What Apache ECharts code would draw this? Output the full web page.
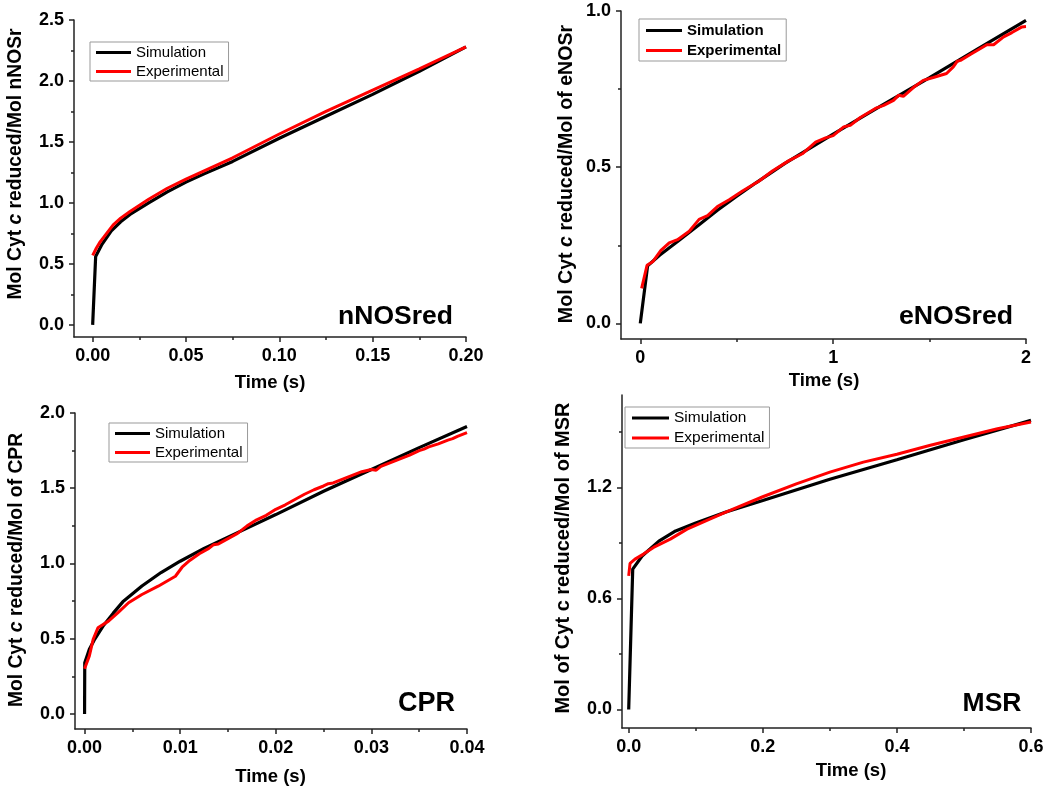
<!DOCTYPE html>
<html>
<head>
<meta charset="utf-8">
<script src="https://cdn.jsdelivr.net/npm/echarts@6/dist/echarts.min.js"></script>
<style>
html,body{margin:0;padding:0;background:#fff;}
#chart{width:1050px;height:792px;}
</style>
</head>
<body>
<div id="chart"></div>
<script>
// ---------- DATA ----------
// Panel 1: nNOSred
const p1SimT = [0, 0.0016, 0.005, 0.01, 0.015, 0.02, 0.03, 0.04, 0.05, 0.06, 0.075, 0.1, 0.125, 0.15, 0.175, 0.2];
const p1SimY = [0, 0.56, 0.66, 0.77, 0.845, 0.905, 1.0, 1.09, 1.17, 1.24, 1.34, 1.53, 1.71, 1.89, 2.08, 2.28];
const p1ExpT = [0, 0.002, 0.004, 0.0075, 0.011, 0.015, 0.02, 0.03, 0.04, 0.05, 0.06, 0.075, 0.1, 0.125, 0.15, 0.175, 0.2];
const p1ExpY = [0.57, 0.63, 0.68, 0.75, 0.82, 0.875, 0.93, 1.03, 1.12, 1.195, 1.265, 1.37, 1.565, 1.75, 1.925, 2.1, 2.28];
const p1XTicks = [0, 0.05, 0.1, 0.15, 0.2];
const p1XMinor = [0.025, 0.075, 0.125, 0.175];
const p1YTicks = [0, 0.5, 1.0, 1.5, 2.0, 2.5];
const p1YMinor = [0.25, 0.75, 1.25, 1.75, 2.25];

// Panel 2: eNOSred
const p2SimT = [0, 0.038, 0.1, 0.2, 0.3, 0.4, 0.5, 0.6, 0.75, 1.0, 1.25, 1.5, 1.75, 2.0];
const p2SimY = [0, 0.184, 0.218, 0.265, 0.313, 0.362, 0.407, 0.45, 0.512, 0.606, 0.697, 0.787, 0.879, 0.970];
const p2ExpT = [0.007, 0.035, 0.064, 0.107, 0.150, 0.193, 0.254, 0.305, 0.349, 0.40, 0.461, 0.53, 0.616, 0.685, 0.771, 0.840, 0.909, 0.961, 1.0, 1.055, 1.089, 1.141, 1.219, 1.262, 1.313, 1.339, 1.364, 1.416, 1.467, 1.519, 1.588, 1.623, 1.643, 1.66, 1.711, 1.797, 1.832, 1.884, 1.927, 1.979, 2.0];
const p2ExpY = [0.112, 0.186, 0.197, 0.234, 0.258, 0.268, 0.295, 0.333, 0.345, 0.374, 0.396, 0.424, 0.456, 0.488, 0.521, 0.543, 0.580, 0.594, 0.601, 0.629, 0.634, 0.659, 0.688, 0.698, 0.714, 0.730, 0.727, 0.755, 0.778, 0.787, 0.80, 0.821, 0.839, 0.842, 0.861, 0.892, 0.892, 0.917, 0.931, 0.949, 0.95];
const p2XTicks = [0, 1, 2];
const p2XMinor = [0.5, 1.5];
const p2YTicks = [0, 0.5, 1.0];
const p2YMinor = [0.25, 0.75];

// Panel 3: CPR
const p3SimT = [0, 0.00002, 0.0005, 0.001, 0.002, 0.003, 0.004, 0.006, 0.008, 0.01, 0.0125, 0.015, 0.0175, 0.02, 0.025, 0.03, 0.035, 0.04];
const p3SimY = [0, 0.34, 0.43, 0.49, 0.59, 0.67, 0.745, 0.85, 0.94, 1.015, 1.1, 1.175, 1.25, 1.325, 1.48, 1.625, 1.77, 1.91];
const p3ExpT = [0, 0.0005, 0.0009, 0.0014, 0.0025, 0.0035, 0.0046, 0.006, 0.0077, 0.0095, 0.0102, 0.011, 0.012, 0.013, 0.0135, 0.014, 0.015, 0.016, 0.017, 0.018, 0.019, 0.020, 0.021, 0.022, 0.023, 0.024, 0.025, 0.0255, 0.026, 0.027, 0.028, 0.029, 0.030, 0.0305, 0.031, 0.032, 0.033, 0.034, 0.035, 0.0355, 0.036, 0.037, 0.038, 0.0385, 0.039, 0.040];
const p3ExpY = [0.30, 0.386, 0.496, 0.573, 0.617, 0.673, 0.739, 0.794, 0.849, 0.915, 0.975, 1.02, 1.065, 1.10, 1.125, 1.13, 1.165, 1.20, 1.25, 1.29, 1.32, 1.36, 1.39, 1.425, 1.46, 1.49, 1.515, 1.53, 1.535, 1.56, 1.585, 1.61, 1.625, 1.62, 1.645, 1.67, 1.695, 1.72, 1.75, 1.76, 1.775, 1.795, 1.82, 1.83, 1.845, 1.87];
const p3XTicks = [0, 0.01, 0.02, 0.03, 0.04];
const p3XMinor = [0.005, 0.015, 0.025, 0.035];
const p3YTicks = [0, 0.5, 1.0, 1.5, 2.0];
const p3YMinor = [0.25, 0.75, 1.25, 1.75];

// Panel 4: MSR
const p4SimT = [0, 0.006, 0.02, 0.045, 0.07, 0.1, 0.145, 0.2, 0.3, 0.4, 0.5, 0.6];
const p4SimY = [0, 0.759, 0.83, 0.91, 0.965, 1.008, 1.068, 1.13, 1.245, 1.35, 1.458, 1.563];
const p4ExpT = [0, 0.002, 0.0094, 0.022, 0.037, 0.062, 0.087, 0.115, 0.144, 0.2, 0.25, 0.3, 0.35, 0.4, 0.45, 0.5, 0.55, 0.6];
const p4ExpY = [0.722, 0.79, 0.813, 0.84, 0.876, 0.921, 0.975, 1.02, 1.065, 1.15, 1.22, 1.283, 1.337, 1.38, 1.428, 1.473, 1.518, 1.554];
const p4XTicks = [0, 0.2, 0.4, 0.6];
const p4XMinor = [0.1, 0.3, 0.5];
const p4YTicks = [0, 0.6, 1.2];
const p4YMinor = [0.3, 0.9, 1.5];

const seriesNames = ['Simulation', 'Experimental'];
const panelLabels = ['nNOSred', 'eNOSred', 'CPR', 'MSR'];
const xTitle = 'Time (s)';
const yTitles = [
  'Mol Cyt {i|c} reduced/Mol nNOSr',
  'Mol Cyt {i|c} reduced/Mol of eNOSr',
  'Mol Cyt {i|c} reduced/Mol of CPR',
  'Mol of Cyt c reduced/Mol of MSR'
];

// ---------- LAYOUT / STYLE ----------
const FONT = '"Liberation Sans", Arial, Helvetica, sans-serif';
const AXC = '#222';
const panels = [
  { grid:{left:74, top:20, width:392, height:317}, x:[-0.01,0.2], y:[-0.1,2.5], xf:2, yf:1,
    sim:[p1SimT,p1SimY], exp:[p1ExpT,p1ExpY], xt:[p1XTicks,p1XMinor], yt:[p1YTicks,p1YMinor],
    legend:{left:90, top:42, padding:[3,5,2,6], itemGap:4, itemWidth:35, bold:false, fs:15},
    ytitle:{x:16, y:164, fs:19.3}, xtitle:{x:270, y:383}, label:{x:395.5, y:317, fs:26.5} },
  { grid:{left:621, top:11, width:405, height:328}, x:[-0.1,2], y:[-0.05,1.0], xf:0, yf:1,
    sim:[p2SimT,p2SimY], exp:[p2ExpT,p2ExpY], xt:[p2XTicks,p2XMinor], yt:[p2YTicks,p2YMinor],
    legend:{left:639, top:19, padding:[4,5,3,7], itemGap:5, itemWidth:36, bold:true, fs:15},
    ytitle:{x:567, y:174, fs:19.6}, xtitle:{x:824, y:381}, label:{x:956, y:317, fs:26.7} },
  { grid:{left:75, top:413, width:392, height:316}, x:[-0.001,0.04], y:[-0.1,2.0], xf:2, yf:1,
    sim:[p3SimT,p3SimY], exp:[p3ExpT,p3ExpY], xt:[p3XTicks,p3XMinor], yt:[p3YTicks,p3YMinor],
    legend:{left:109, top:423, padding:[3,5,2,6], itemGap:4, itemWidth:35, bold:false, fs:15},
    ytitle:{x:17, y:570, fs:19.3}, xtitle:{x:270.5, y:777}, label:{x:426.5, y:704, fs:27} },
  { grid:{left:622, top:395, width:409, height:333}, x:[-0.01,0.6], y:[-0.1,1.7], xf:1, yf:1,
    sim:[p4SimT,p4SimY], exp:[p4ExpT,p4ExpY], xt:[p4XTicks,p4XMinor], yt:[p4YTicks,p4YMinor],
    legend:{left:625, top:407, padding:[3,5,2,7], itemGap:4, itemWidth:37, bold:false, fs:15.5},
    ytitle:{x:563, y:558, fs:20}, xtitle:{x:851, y:771}, label:{x:992, y:704, fs:26.5} }
];

const zip = (a, b) => a.map((v, i) => [v, b[i]]);

const option = {
  animation: false,
  backgroundColor: '#fff',
  grid: [], xAxis: [], yAxis: [], series: [], legend: [], graphic: []
};

panels.forEach((p, i) => {
  option.grid.push(Object.assign({containLabel:false}, p.grid));
  const xi = option.xAxis.length, yi = option.yAxis.length;
  const lineStyle = {color: AXC, width: 1.5};
  const lab = (dec) => ({
    fontFamily: FONT, fontWeight: 'bold', fontSize: 18, color: '#000',
    formatter: v => Number(v).toFixed(dec)
  });
  // main axes
  option.xAxis.push({
    gridIndex: i, type: 'value', min: p.x[0], max: p.x[1], position: 'bottom',
    axisLine: {show: true, onZero: false, lineStyle},
    axisTick: {show: true, inside: false, length: 5, customValues: p.xt[0], lineStyle},
    axisLabel: Object.assign({show: true, margin: 10, customValues: p.xt[0]}, lab(p.xf)),
    splitLine: {show: false}
  });
  option.xAxis.push({
    gridIndex: i, type: 'value', min: p.x[0], max: p.x[1], position: 'bottom',
    axisLine: {show: false, onZero: false},
    axisTick: {show: true, inside: false, length: 3, customValues: p.xt[1], lineStyle},
    axisLabel: {show: false}, splitLine: {show: false}
  });
  option.yAxis.push({
    gridIndex: i, type: 'value', min: p.y[0], max: p.y[1], position: 'left',
    axisLine: {show: true, onZero: false, lineStyle},
    axisTick: {show: true, inside: false, length: 5, customValues: p.yt[0], lineStyle},
    axisLabel: Object.assign({show: true, margin: 10, customValues: p.yt[0]}, lab(p.yf)),
    splitLine: {show: false}
  });
  option.yAxis.push({
    gridIndex: i, type: 'value', min: p.y[0], max: p.y[1], position: 'left',
    axisLine: {show: false, onZero: false},
    axisTick: {show: true, inside: false, length: 3, customValues: p.yt[1], lineStyle},
    axisLabel: {show: false}, splitLine: {show: false}
  });
  option.series.push({
    name: seriesNames[0], type: 'line', xAxisIndex: xi, yAxisIndex: yi,
    data: zip(p.sim[0], p.sim[1]), showSymbol: false, symbol: 'none',
    color: '#000', lineStyle: {color: '#000', width: 3.2}, z: 2
  });
  option.series.push({
    name: seriesNames[1], type: 'line', xAxisIndex: xi, yAxisIndex: yi,
    data: zip(p.exp[0], p.exp[1]), showSymbol: false, symbol: 'none',
    color: '#ff0000', lineStyle: {color: '#ff0000', width: 3}, z: 3
  });
  const L = p.legend;
  option.legend.push({
    data: seriesNames, orient: 'vertical', left: L.left, top: L.top,
    padding: L.padding, itemGap: L.itemGap, itemWidth: L.itemWidth, itemHeight: 3,
    icon: 'rect', borderColor: '#999', borderWidth: 1, backgroundColor: '#fff',
    selectedMode: false,
    textStyle: {fontFamily: FONT, fontSize: L.fs, fontWeight: L.bold ? 'bold' : 'normal', color: '#000', lineHeight: 15}
  });
  option.graphic.push({
    type: 'text', x: p.ytitle.x, y: p.ytitle.y, rotation: Math.PI / 2,
    style: {
      text: yTitles[i], fontFamily: FONT, fontWeight: 'bold', fontSize: p.ytitle.fs,
      fill: '#000', align: 'center', verticalAlign: 'middle',
      rich: {i: {fontFamily: FONT, fontWeight: 'bold', fontStyle: 'italic', fontSize: p.ytitle.fs, fill: '#000'}}
    }
  });
  option.graphic.push({
    type: 'text', x: p.xtitle.x, y: p.xtitle.y,
    style: {text: xTitle, fontFamily: FONT, fontWeight: 'bold', fontSize: 18.5, fill: '#000', align: 'center', verticalAlign: 'middle'}
  });
  option.graphic.push({
    type: 'text', x: p.label.x, y: p.label.y,
    style: {text: panelLabels[i], fontFamily: FONT, fontWeight: 'bold', fontSize: p.label.fs, fill: '#000', align: 'center', verticalAlign: 'middle'}
  });
});

const chart = echarts.init(document.getElementById('chart'), null, {renderer: 'canvas'});
chart.setOption(option);
</script>
</body>
</html>
